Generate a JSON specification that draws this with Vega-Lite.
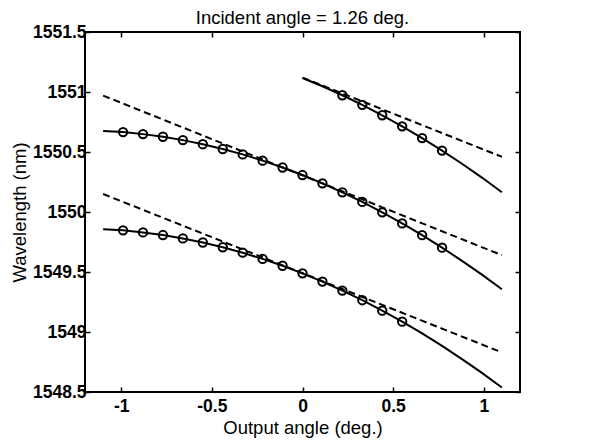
{
  "$schema": "https://vega.github.io/schema/vega-lite/v6.json",
  "width": 435,
  "height": 360,
  "autosize": {"type": "none"},
  "padding": {"left": 85, "top": 32, "right": 89, "bottom": 48},
  "background": "white",
  "title": {"text": "Incident angle = 1.26 deg.", "font": "Liberation Sans", "fontSize": 18.5, "fontWeight": "normal", "color": "black", "offset": -4, "anchor": "middle"},
  "config": {
    "view": {"stroke": "black", "strokeWidth": 2},
    "axis": {"domain": false, "grid": false, "tickColor": "black", "tickWidth": 1.5, "tickSize": -5, "labelFont": "Liberation Sans", "labelFontWeight": "bold", "labelFontSize": 17.5, "labelColor": "black", "titleFont": "Liberation Sans", "titleFontSize": 18.5, "titleFontWeight": "normal", "titleColor": "black"}
  },
  "datasets": {
    "curves": [
      {"x": -1.1, "y": 1550.676, "s": "m"}, {"x": -0.99, "y": 1550.666, "s": "m"}, {"x": -0.88, "y": 1550.649, "s": "m"}, {"x": -0.77, "y": 1550.627, "s": "m"}, {"x": -0.66, "y": 1550.599, "s": "m"}, {"x": -0.55, "y": 1550.565, "s": "m"}, {"x": -0.44, "y": 1550.525, "s": "m"}, {"x": -0.33, "y": 1550.48, "s": "m"}, {"x": -0.22, "y": 1550.428, "s": "m"}, {"x": -0.11, "y": 1550.371, "s": "m"}, {"x": 0, "y": 1550.308, "s": "m"}, {"x": 0.11, "y": 1550.239, "s": "m"}, {"x": 0.22, "y": 1550.164, "s": "m"}, {"x": 0.33, "y": 1550.084, "s": "m"}, {"x": 0.44, "y": 1549.997, "s": "m"}, {"x": 0.55, "y": 1549.905, "s": "m"}, {"x": 0.66, "y": 1549.807, "s": "m"}, {"x": 0.77, "y": 1549.703, "s": "m"}, {"x": 0.88, "y": 1549.593, "s": "m"}, {"x": 0.99, "y": 1549.478, "s": "m"}, {"x": 1.1, "y": 1549.356, "s": "m"},
      {"x": -1.1, "y": 1549.857, "s": "b"}, {"x": -0.99, "y": 1549.847, "s": "b"}, {"x": -0.88, "y": 1549.83, "s": "b"}, {"x": -0.77, "y": 1549.808, "s": "b"}, {"x": -0.66, "y": 1549.78, "s": "b"}, {"x": -0.55, "y": 1549.746, "s": "b"}, {"x": -0.44, "y": 1549.706, "s": "b"}, {"x": -0.33, "y": 1549.661, "s": "b"}, {"x": -0.22, "y": 1549.609, "s": "b"}, {"x": -0.11, "y": 1549.552, "s": "b"}, {"x": 0, "y": 1549.489, "s": "b"}, {"x": 0.11, "y": 1549.42, "s": "b"}, {"x": 0.22, "y": 1549.345, "s": "b"}, {"x": 0.33, "y": 1549.265, "s": "b"}, {"x": 0.44, "y": 1549.178, "s": "b"}, {"x": 0.55, "y": 1549.086, "s": "b"}, {"x": 0.66, "y": 1548.988, "s": "b"}, {"x": 0.77, "y": 1548.884, "s": "b"}, {"x": 0.88, "y": 1548.774, "s": "b"}, {"x": 0.99, "y": 1548.659, "s": "b"}, {"x": 1.1, "y": 1548.537, "s": "b"},
      {"x": 0, "y": 1551.117, "s": "t"}, {"x": 0.11, "y": 1551.048, "s": "t"}, {"x": 0.22, "y": 1550.973, "s": "t"}, {"x": 0.33, "y": 1550.893, "s": "t"}, {"x": 0.44, "y": 1550.806, "s": "t"}, {"x": 0.55, "y": 1550.714, "s": "t"}, {"x": 0.66, "y": 1550.616, "s": "t"}, {"x": 0.77, "y": 1550.512, "s": "t"}, {"x": 0.88, "y": 1550.402, "s": "t"}, {"x": 0.99, "y": 1550.287, "s": "t"}, {"x": 1.1, "y": 1550.165, "s": "t"}
    ],
    "dashes": [
      {"x": -1.1, "y": 1550.97, "s": "a"}, {"x": 1.1, "y": 1549.64, "s": "a"},
      {"x": -1.1, "y": 1550.15, "s": "b"}, {"x": 1.1, "y": 1548.83, "s": "b"},
      {"x": 0, "y": 1551.12, "s": "c"}, {"x": 1.1, "y": 1550.46, "s": "c"}
    ],
    "circles": [
      {"x": -0.99, "y": 1550.666, "s": "m"}, {"x": -0.88, "y": 1550.649, "s": "m"}, {"x": -0.77, "y": 1550.627, "s": "m"}, {"x": -0.66, "y": 1550.599, "s": "m"}, {"x": -0.55, "y": 1550.565, "s": "m"}, {"x": -0.44, "y": 1550.525, "s": "m"}, {"x": -0.33, "y": 1550.48, "s": "m"}, {"x": -0.22, "y": 1550.428, "s": "m"}, {"x": -0.11, "y": 1550.371, "s": "m"}, {"x": 0, "y": 1550.308, "s": "m"}, {"x": 0.11, "y": 1550.239, "s": "m"}, {"x": 0.22, "y": 1550.164, "s": "m"}, {"x": 0.33, "y": 1550.084, "s": "m"}, {"x": 0.44, "y": 1549.997, "s": "m"}, {"x": 0.55, "y": 1549.905, "s": "m"}, {"x": 0.66, "y": 1549.807, "s": "m"}, {"x": 0.77, "y": 1549.703, "s": "m"},
      {"x": -0.99, "y": 1549.847, "s": "b"}, {"x": -0.88, "y": 1549.83, "s": "b"}, {"x": -0.77, "y": 1549.808, "s": "b"}, {"x": -0.66, "y": 1549.78, "s": "b"}, {"x": -0.55, "y": 1549.746, "s": "b"}, {"x": -0.44, "y": 1549.706, "s": "b"}, {"x": -0.33, "y": 1549.661, "s": "b"}, {"x": -0.22, "y": 1549.609, "s": "b"}, {"x": -0.11, "y": 1549.552, "s": "b"}, {"x": 0, "y": 1549.489, "s": "b"}, {"x": 0.11, "y": 1549.42, "s": "b"}, {"x": 0.22, "y": 1549.345, "s": "b"}, {"x": 0.33, "y": 1549.265, "s": "b"}, {"x": 0.44, "y": 1549.178, "s": "b"}, {"x": 0.55, "y": 1549.086, "s": "b"},
      {"x": 0.22, "y": 1550.973, "s": "t"}, {"x": 0.33, "y": 1550.893, "s": "t"}, {"x": 0.44, "y": 1550.806, "s": "t"}, {"x": 0.55, "y": 1550.714, "s": "t"}, {"x": 0.66, "y": 1550.616, "s": "t"}, {"x": 0.77, "y": 1550.512, "s": "t"}
    ]
  },
  "resolve": {"axis": {"x": "independent", "y": "independent"}},
  "layer": [
    {
      "data": {"name": "curves"},
      "mark": {"type": "line", "color": "black", "strokeWidth": 2},
      "encoding": {
        "x": {"field": "x", "type": "quantitative", "scale": {"domain": [-1.2, 1.2], "nice": false}, "axis": {"orient": "bottom", "values": [-1, -0.5, 0, 0.5, 1], "title": "Output angle (deg.)", "labelPadding": 10, "titlePadding": 4, "labelExpr": "datum.value"}},
        "y": {"field": "y", "type": "quantitative", "scale": {"domain": [1548.5, 1551.5], "nice": false, "zero": false}, "axis": {"orient": "left", "values": [1548.5, 1549, 1549.5, 1550, 1550.5, 1551, 1551.5], "title": "Wavelength (nm)", "labelPadding": 4, "titlePadding": 3, "labelExpr": "datum.value"}},
        "detail": {"field": "s"},
        "order": {"field": "x", "type": "quantitative"}
      }
    },
    {
      "data": {"name": "dashes"},
      "mark": {"type": "line", "color": "black", "strokeWidth": 2, "strokeDash": [7, 4]},
      "encoding": {
        "x": {"field": "x", "type": "quantitative", "axis": null},
        "y": {"field": "y", "type": "quantitative", "axis": null},
        "detail": {"field": "s"}
      }
    },
    {
      "data": {"name": "circles"},
      "mark": {"type": "point", "shape": "circle", "filled": false, "color": "black", "strokeWidth": 2, "size": 70, "opacity": 1},
      "encoding": {
        "x": {"field": "x", "type": "quantitative", "axis": {"orient": "top", "values": [-1, -0.5, 0, 0.5, 1], "labels": false, "title": null}},
        "y": {"field": "y", "type": "quantitative", "axis": {"orient": "right", "values": [1548.5, 1549, 1549.5, 1550, 1550.5, 1551, 1551.5], "labels": false, "title": null}}
      }
    }
  ]
}
